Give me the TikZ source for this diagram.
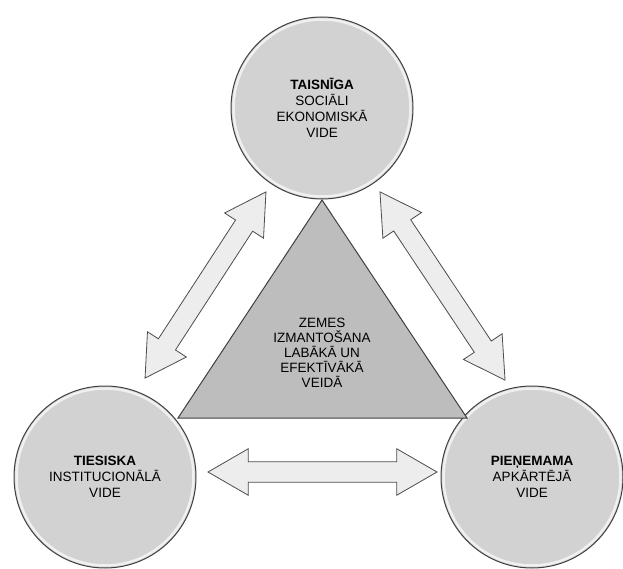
\documentclass[tikz,border=0pt]{standalone}
\usepackage{fontspec}
\setmainfont{Liberation Sans}
\usetikzlibrary{shapes.arrows}

\tikzset{
  vide/.style={circle, draw=black!75, line width=1pt, fill=gray!35,
    minimum size=182pt, inner sep=0pt, align=center,
    font=\fontsize{13.5}{16}\selectfont,
    path picture={\draw[gray!12, line width=2.5pt]
      (path picture bounding box.center) circle (88.5pt);}},
  saite/.style={double arrow, draw=black!70, line width=0.8pt, fill=gray!14,
    inner sep=9.8pt, double arrow head extend=13pt, double arrow tip angle=60},
}

\begin{document}
\begin{tikzpicture}[x=1pt,y=-1pt]
\useasboundingbox (0,0) rectangle (623,569);
% three environments
\node[vide] (taisn) at (322,108) {\textbf{TAISNĪGA}\\SOCIĀLI\\EKONOMISKĀ\\VIDE};
\node[vide] (ties) at (105,477) {\textbf{TIESISKA}\\INSTITUCIONĀLĀ\\VIDE};
\node[vide] (pien) at (532,477) {\textbf{PIEŅEMAMA}\\APKĀRTĒJĀ\\VIDE};
% triangle in the middle
\coordinate (virs) at (322,200); \coordinate (labi) at (467,418);
\coordinate (kreisi) at (178,418);
\draw[draw=black!75, line width=1pt, fill=gray!52] (virs) -- (labi) -- (kreisi) -- cycle;
\node[align=center, font=\fontsize{13.5}{15}\selectfont] (zemes) at (322,353)
  {ZEMES\\IZMANTOŠANA\\LABĀKĀ UN\\EFEKTĪVĀKĀ\\VEIDĀ};
% arrows
\node[saite, minimum height=222pt, rotate=57] (s1) at (205.5,285) {};
\node[saite, minimum height=226pt, rotate=-56.4] (s2) at (442.5,286) {};
\node[saite, minimum height=229pt] (s3) at (322.5,472) {};
\end{tikzpicture}
\end{document}
